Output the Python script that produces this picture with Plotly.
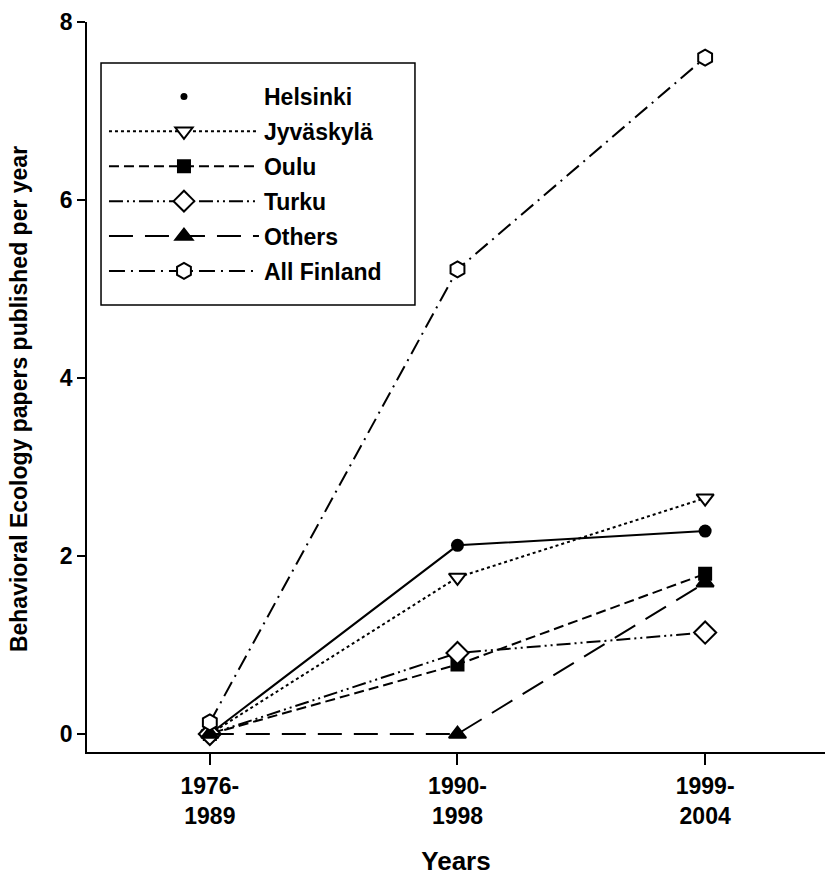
import plotly.graph_objects as go

periods = ["1976-<br>1989", "1990-<br>1998", "1999-<br>2004"]
helsinki = [0.0, 2.12, 2.28]
jyvaskyla = [0.0, 1.76, 2.65]
oulu = [0.0, 0.78, 1.80]
turku = [0.0, 0.91, 1.14]
others = [0.0, 0.0, 1.70]
all_finland = [0.13, 5.22, 7.60]

series = [
    ("Jyväskylä", jyvaskyla, "dot", "triangle-down", "white", 15),
    ("Oulu", oulu, "10px,5px", "square", "black", 12),
    ("Turku", turku, "14px,4px,2px,4px,2px,4px", "diamond", "white", 17),
    ("Others", others, "24px,12px", "triangle-up", "black", 15),
    ("All Finland", all_finland, "16px,6px,2px,6px", "hexagon", "white", 16),
]

fig = go.Figure()

fig.add_trace(go.Scatter(x=periods, y=helsinki, mode="lines+markers", showlegend=False,
                         line=dict(color="black", width=2, dash="solid"),
                         marker=dict(symbol="circle", size=13, color="black")))
fig.add_trace(go.Scatter(x=[None], y=[None], mode="markers", name="Helsinki",
                         legendgroup="g0",
                         marker=dict(symbol="circle", size=7, color="black")))

for i, (name, vals, dash, sym, fill, sz) in enumerate(series):
    fig.add_trace(go.Scatter(x=periods, y=vals, mode="lines+markers", name=name,
                             legendgroup=f"g{i+1}",
                             line=dict(color="black", width=2, dash=dash),
                             marker=dict(symbol=sym, size=sz, color=fill,
                                         line=dict(color="black", width=2))))

# legend frame
fig.add_shape(type="rect", xref="paper", yref="paper", x0=0.019, x1=0.4444, y0=0.6123, y1=0.9438,
              line=dict(color="black", width=1.5), fillcolor="rgba(0,0,0,0)", layer="above")

# y-axis title
fig.add_annotation(text="Behavioral Ecology papers published per year", textangle=-90,
                   xref="paper", yref="paper", x=-0.092, y=0.4836, xanchor="center", yanchor="middle",
                   showarrow=False, font=dict(size=23, weight="bold"))

fig.update_layout(
    width=826, height=876,
    margin=dict(l=87, r=1, t=22, b=124),
    plot_bgcolor="white", paper_bgcolor="white",
    font=dict(family="Liberation Sans, Arial, sans-serif", color="black"),
    legend=dict(x=0.023, y=0.9274, xanchor="left", yanchor="top",
                borderwidth=0, bgcolor="rgba(0,0,0,0)",
                font=dict(size=23, family="Liberation Sans, Arial, sans-serif", weight="bold"),
                itemwidth=150, tracegroupgap=2, traceorder="grouped"),
    showlegend=True,
)
fig.update_xaxes(type="category", range=[-0.496, 2.484], showline=True, linecolor="black", linewidth=1.5,
                 ticks="outside", ticklen=11, tickwidth=1.5, tickcolor="black",
                 showgrid=False, zeroline=False, ticklabelstandoff=2,
                 tickfont=dict(size=23, weight="bold"),
                 title=dict(text="Years", font=dict(size=26, weight="bold"), standoff=25))
fig.update_yaxes(range=[-0.202, 8], showline=True, linecolor="black", linewidth=1.5,
                 ticks="outside", ticklen=8, tickwidth=1.5, tickcolor="black",
                 tickvals=[0, 2, 4, 6, 8], showgrid=False, zeroline=False,
                 tickfont=dict(size=23, weight="bold"))

fig.write_html("out.html", post_script="document.body.style.margin='0';",
               config={"displayModeBar": False})
